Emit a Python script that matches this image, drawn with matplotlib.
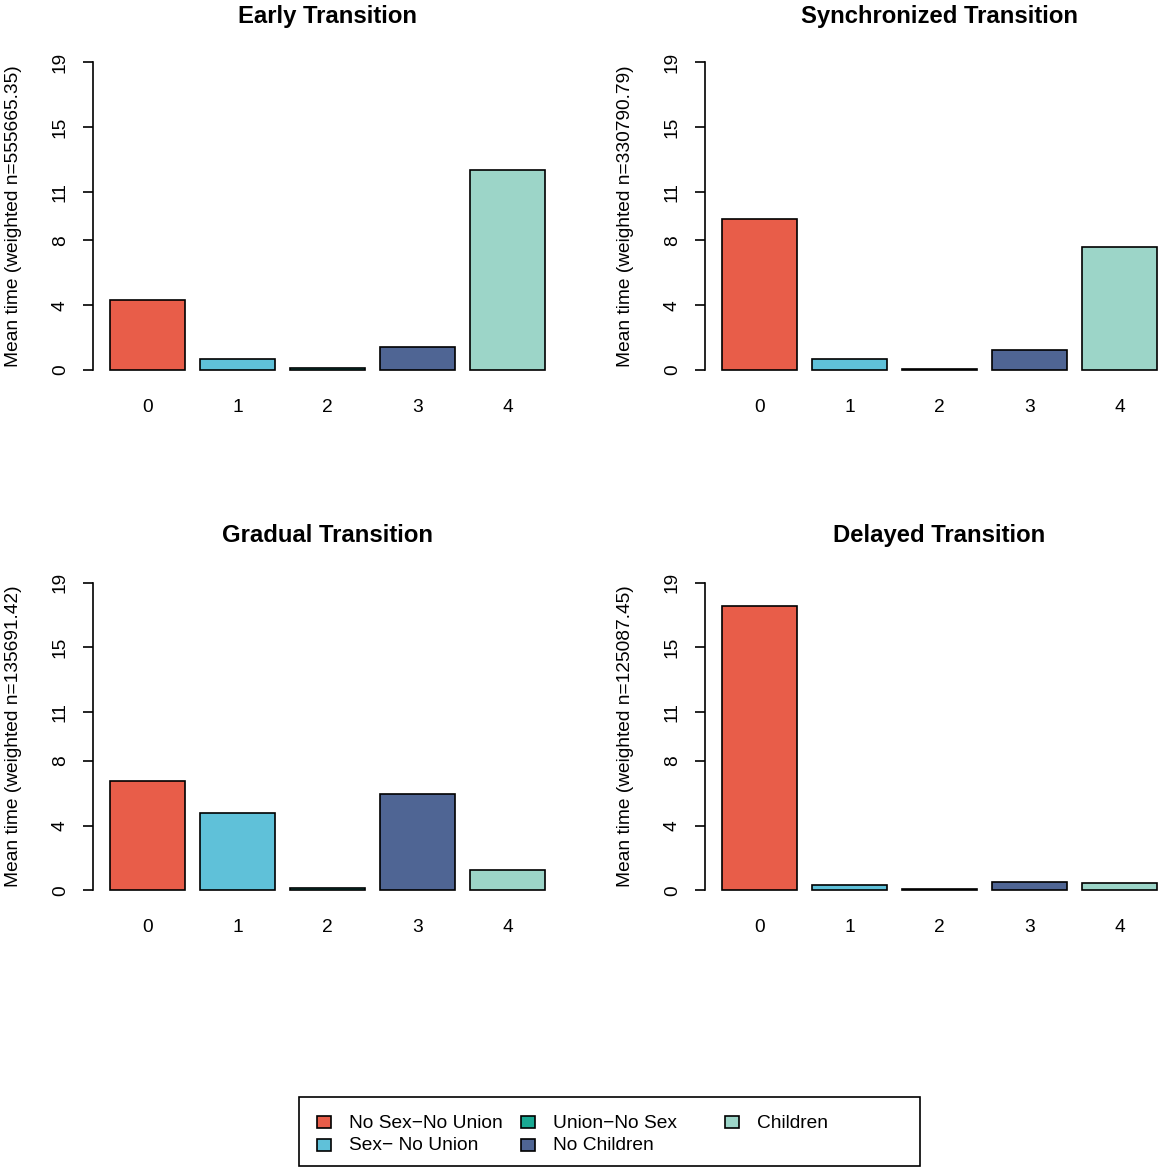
import numpy as np
import matplotlib.pyplot as plt
from matplotlib.patches import Rectangle
from matplotlib.colors import to_rgb

plt.rcParams['font.family'] = ['Liberation Sans', 'DejaVu Sans']

# data
states = ["0", "1", "2", "3", "4"]
titles = ["Early Transition", "Synchronized Transition",
          "Gradual Transition", "Delayed Transition"]
ylabels = ["Mean time (weighted n=555665.35)", "Mean time (weighted n=330790.79)",
           "Mean time (weighted n=135691.42)", "Mean time (weighted n=125087.45)"]
early = [4.33, 0.69, 0.14, 1.42, 12.32]
synchronized = [9.33, 0.70, 0.08, 1.21, 7.60]
gradual = [6.77, 4.81, 0.16, 5.96, 1.25]
delayed = [17.58, 0.37, 0.08, 0.53, 0.49]
yticks = [0, 4, 8, 11, 15, 19]
legend_labels = ["No Sex\u2212No Union", "Sex\u2212 No Union", "Union\u2212No Sex",
                 "No Children", "Children"]
colors = ["#E64B35", "#4DBBD5", "#00A087", "#3C5488", "#91D1C2"]
ALPHA = 0.9
FS = 13.8

W, H = 1159, 1167
fig = plt.figure(figsize=(W / 100, H / 100), dpi=100)

def px_axes(left, top, width, height):
    # pixel box (top-left origin) -> figure fraction
    return fig.add_axes([left / W, 1 - (top + height) / H, width / W, height / H])

# R style barplot geometry: bars width 1, space 0.2, 4% axis expansion
xmid = 0.7 + 1.2 * np.arange(5)
xlim = (-0.032, 6.232)
ylim = (-0.76, 19.76)
unit = 16.2  # px per y unit
panels = [
    (92.6, 370.0, early),
    (704.6, 370.0, synchronized),
    (92.6, 890.5, gradual),
    (704.6, 890.5, delayed),
]
fc = [(*to_rgb(c), ALPHA) for c in colors]

for i, (left, zero, vals) in enumerate(panels):
    top = zero - ylim[1] * unit
    height = (ylim[1] - ylim[0]) * unit
    width = 6.264 * 75
    ax = px_axes(left, top, width, height)
    ax.bar(xmid, vals, width=1.0, color=fc, edgecolor="black", linewidth=1.2)
    ax.set_xlim(*xlim)
    ax.set_ylim(*ylim)
    for s in ["top", "right", "bottom"]:
        ax.spines[s].set_visible(False)
    ax.spines["left"].set_bounds(0, 19)
    ax.spines["left"].set_linewidth(1.2)
    ax.set_yticks(yticks)
    ax.set_yticklabels([str(t) for t in yticks], rotation=90, va="center")
    ax.tick_params(axis="y", length=7, width=1.2, pad=10, labelsize=FS)
    ax.set_xticks(xmid)
    ax.set_xticklabels(states)
    ax.tick_params(axis="x", length=0, pad=12, labelsize=FS)
    ax.patch.set_alpha(0)
    cx = left + width / 2
    ty = 16 if i < 2 else 536
    fig.text(cx / W, 1 - ty / H, titles[i], ha="center", va="center",
             fontsize=17.2, fontweight="bold")
    fig.text((left - 79) / W, 1 - (zero - 9.5 * unit) / H, ylabels[i],
             rotation=90, ha="center", va="center", fontsize=FS)

# legend box drawn like R's legend()
fig.patches.append(Rectangle((299 / W, 1 - 1166 / H), 621 / W, 69 / H,
                             transform=fig.transFigure, fill=False,
                             edgecolor="black", linewidth=1.2))
col_x = [317, 521, 725]
row_y = [1122, 1144.5]
pos = [(0, 0), (0, 1), (1, 0), (1, 1), (2, 0)]
for lab, col, (c, r) in zip(legend_labels, fc, pos):
    kx, ky = col_x[c], row_y[r]
    fig.patches.append(Rectangle((kx / W, 1 - (ky + 6) / H), 14 / W, 12 / H,
                                 transform=fig.transFigure,
                                 facecolor=col, edgecolor="black", linewidth=1.2))
    fig.text((kx + 32) / W, 1 - (ky + 1.5) / H, lab, ha="left", va="center",
             fontsize=FS)

fig.savefig("out.png", dpi=100)
